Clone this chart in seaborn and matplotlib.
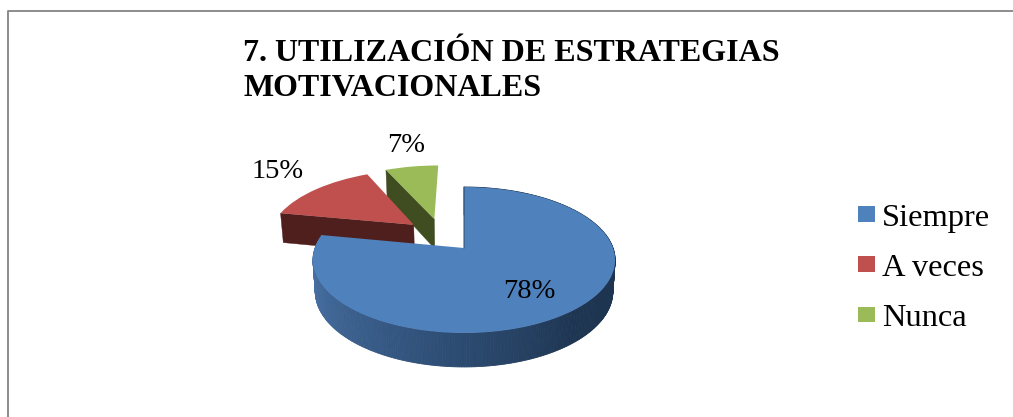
import numpy as np
import seaborn as sns
import matplotlib
matplotlib.use("Agg")
import matplotlib.pyplot as plt
from matplotlib.transforms import Transform

title = "7. UTILIZACIÓN DE ESTRATEGIAS\nMOTIVACIONALES"
labels = ["Siempre", "A veces", "Nunca"]
values = [78, 15, 7]
explode = [0.25, 0.25, 0.25]

sns.set_theme(style="white")
plt.rcParams["font.family"] = ["Liberation Serif", "DejaVu Serif"]

colors = sns.color_palette(["#4f81bd", "#c0504d", "#9bbb59"])
wall_dark = ["#1e3552", "#4f1f1e", "#3f4d20"]
blue_side = sns.blend_palette(["#4d78ac", "#345782", "#1e3552"], 240)


# squashed perspective of the 3d pie, pie units -> pixels
class Persp(Transform):
    input_dims = 2
    output_dims = 2

    def __init__(self, bottom=False):
        super().__init__()
        self.bottom = bottom

    def transform_non_affine(self, xy):
        xy = np.asarray(xy, dtype=float)
        u = xy[:, 0] - 0.159
        v = xy[:, 1] + 0.1925
        w = 1 + 0.164 * v
        px = 149 * u / w
        py = 248 - 71 * v / w
        if self.bottom:
            px = px * 0.985
            py = py + 31 - 3 * v
        return np.column_stack([464 + px, py])


top = Persp()
low = Persp(bottom=True)

fig = plt.figure(figsize=(10.13, 4.17), dpi=100)
ax = fig.add_axes([0, 0, 1, 1])
wedges, _ = ax.pie(values, explode=explode, startangle=90, counterclock=False, colors=colors)
ax.set_aspect("auto")
ax.set_xlim(0, 1013)
ax.set_ylim(417, 0)
ax.set_axis_off()

for w in wedges:
    w.set_transform(top + ax.transData)
    w.set_linewidth(0)


def rim(w, ang):
    a = np.radians(ang)
    return np.array([[w.center[0] + w.r * np.cos(a), w.center[1] + w.r * np.sin(a)]])


def radial_wall(w, ang, color, z):
    c = np.array([w.center])
    e = rim(w, ang)
    pts = np.vstack([top.transform(c), top.transform(e), low.transform(e), low.transform(c)])
    ax.fill(pts[:, 0], pts[:, 1], color=color, lw=0.3, zorder=z)


# green and red: only the cut facing us shows
radial_wall(wedges[2], wedges[2].theta2, wall_dark[2], 1)
wedges[2].set_zorder(2)
radial_wall(wedges[1], wedges[1].theta2, wall_dark[1], 3)
wedges[1].set_zorder(4)

# blue: outer wall with the shading going dark to the right
blue = wedges[0]
angs = np.linspace(blue.theta1, blue.theta2, 360)
for a0, a1 in zip(angs[:-1], angs[1:]):
    t = np.clip((a0 + 180) / 130, 0, 1)
    col = blue_side[int(t * (len(blue_side) - 1))]
    e0, e1 = rim(blue, a0), rim(blue, a1)
    pts = np.vstack([top.transform(e0), top.transform(e1), low.transform(e1), low.transform(e0)])
    ax.fill(pts[:, 0], pts[:, 1], color=col, lw=0.6, zorder=5)
blue.set_zorder(6)
edge = np.vstack([top.transform(np.array([blue.center])), top.transform(rim(blue, 90))])
ax.plot(edge[:, 0], edge[:, 1], color="#2f5077", lw=0.8, zorder=7)

# frame of the chart area
ax.plot([7.5, 7.5, 1013], [417, 10.5, 10.5], color="#8c8c8c", lw=1.4, zorder=0)

ax.text(243, 71, title, fontsize=23, fontweight="bold", color="black", linespacing=1.28,
        ha="left", va="center", zorder=10)

ax.text(529, 291, f"{values[0]}%", fontsize=20.5, color="black", ha="center", va="center", zorder=10)
ax.text(278, 171, f"{values[1]}%", fontsize=20.5, color="black", ha="center", va="center", zorder=10)
ax.text(406, 146, f"{values[2]}%", fontsize=20.5, color="black", ha="center", va="center", zorder=10)

ax.legend(wedges, labels, loc="center left", bbox_to_anchor=(842, 268.5), bbox_transform=ax.transData,
          frameon=False, fontsize=23.4, handlelength=0.5, handleheight=0.377, handletextpad=0.22,
          labelspacing=0.65, borderpad=0, labelcolor="black")

fig.savefig("out.png", dpi=100)
